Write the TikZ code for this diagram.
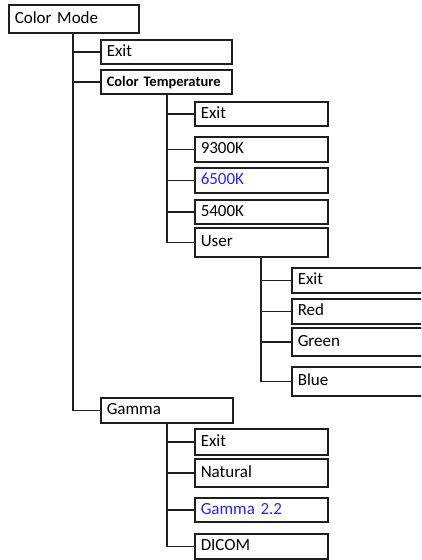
\documentclass[tikz,border=0pt]{standalone}
\usepackage{fontspec}
\setmainfont{Carlito}
\usepackage{tikz}
\definecolor{menublue}{RGB}{40,40,230}
\definecolor{menuline}{RGB}{30,30,30}

\begin{document}
\begin{tikzpicture}[x=1pt,y=-1pt,
    menubox/.style={draw=menuline,line width=1.5pt,anchor=north west,
      minimum width=133pt,minimum height=25pt,inner xsep=6pt,
      text width=121pt,align=left,text height=12pt,text depth=3.5pt,
      font=\fontsize{17}{20}\selectfont},
    tree/.style={draw=menuline,line width=1.5pt}]
  \useasboundingbox[fill=white] (0,0) rectangle (421,560);
  \clip (0,0) rectangle (421,560);
  % top level
  \node[menubox,minimum width=130pt,text width=118pt,minimum height=28pt] (root) at (8,4) {Color Mode};
  \node[menubox,minimum width=131pt,text width=119pt,minimum height=24pt] (cmexit) at (100,39) {Exit};
  \node[menubox,minimum width=131pt,text width=119pt,minimum height=24pt,
        font=\fontsize{14.5}{17}\selectfont\bfseries] (ctemp) at (100,69) {Color Temperature};
  \node[menubox,minimum width=132pt,text width=120pt] (gamma) at (100,397) {Gamma};
  % color temperature
  \node[menubox,minimum height=24pt] (ctexit) at (194,101) {Exit};
  \node[menubox] (c9300) at (194,136) {9300K};
  \node[menubox,text=menublue] (c6500) at (194,167) {6500K};
  \node[menubox,minimum height=24pt] (c5400) at (194,199) {5400K};
  \node[menubox,minimum height=29pt] (user) at (194,227) {User};
  % user
  \node[menubox,minimum width=150pt,text width=138pt] (uexit) at (291,267) {Exit};
  \node[menubox,minimum width=150pt,text width=138pt] (ured) at (291,298) {Red};
  \node[menubox,minimum width=150pt,text width=138pt,minimum height=28pt] (ugreen) at (291,327) {Green};
  \node[menubox,minimum width=150pt,text width=138pt,minimum height=29pt] (ublue) at (291,366) {Blue};
  % gamma
  \node[menubox,minimum height=26pt] (gexit) at (194,428) {Exit};
  \node[menubox,minimum height=28pt] (gnatural) at (194,458) {Natural};
  \node[menubox,minimum height=24pt,text=menublue] (g22) at (194,497) {Gamma 2.2};
  \node[menubox] (gdicom) at (194,533) {DICOM};
  % connectors
  \draw[tree] ([xshift=65pt]root.south west) |- (cmexit.west);
  \draw[tree] ([xshift=65pt]root.south west) |- (ctemp.west);
  \draw[tree] ([xshift=65pt]root.south west) |- (gamma.west);
  \draw[tree] ([xshift=67pt]ctemp.south west) |- (ctexit.west);
  \draw[tree] ([xshift=67pt]ctemp.south west) |- (c9300.west);
  \draw[tree] ([xshift=67pt]ctemp.south west) |- (c6500.west);
  \draw[tree] ([xshift=67pt]ctemp.south west) |- (c5400.west);
  \draw[tree] ([xshift=67pt]ctemp.south west) |- (user.west);
  \draw[tree] ([xshift=67pt]user.south west) |- (uexit.west);
  \draw[tree] ([xshift=67pt]user.south west) |- (ured.west);
  \draw[tree] ([xshift=67pt]user.south west) |- (ugreen.west);
  \draw[tree] ([xshift=67pt]user.south west) |- (ublue.west);
  \draw[tree] ([xshift=67pt]gamma.south west) |- (gexit.west);
  \draw[tree] ([xshift=67pt]gamma.south west) |- (gnatural.west);
  \draw[tree] ([xshift=67pt]gamma.south west) |- (g22.west);
  \draw[tree] ([xshift=67pt]gamma.south west) |- (gdicom.west);
\end{tikzpicture}
\end{document}
